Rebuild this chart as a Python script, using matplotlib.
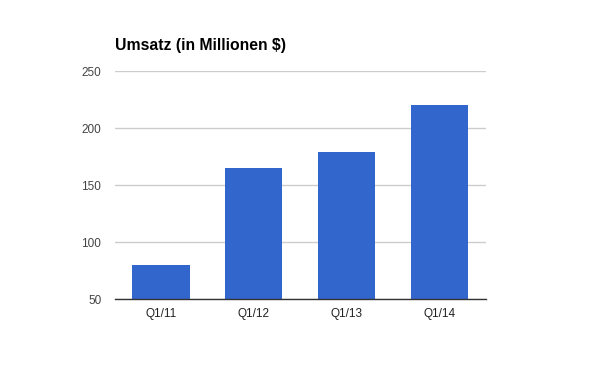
import matplotlib
matplotlib.use("Agg")
import matplotlib.pyplot as plt

categories = ["Q1/11", "Q1/12", "Q1/13", "Q1/14"]
values = [80, 165, 179, 220]
yticks = [50, 100, 150, 200, 250]
title = "Umsatz (in Millionen $)"

plt.rcParams['font.family'] = ['Liberation Sans', 'DejaVu Sans']

fig = plt.figure(figsize=(6, 3.71), dpi=100)
ax = fig.add_axes([0.191, 0.193, 0.619, 0.615])

x = list(range(len(categories)))
ax.bar(x, values, width=0.615, color="#3366CC", zorder=3, bottom=0)
ax.set_xlim(-0.5, len(categories) - 0.5)
ax.set_ylim(50, 250)
ax.set_yticks(yticks)
ax.set_yticklabels([str(v) for v in yticks])
ax.set_xticks(x)
ax.set_xticklabels(categories)

ax.grid(axis='y', color="#cccccc", linewidth=1, zorder=0)
for s in ["top", "right", "left"]:
    ax.spines[s].set_visible(False)
ax.spines["bottom"].set_color("#333333")
ax.spines["bottom"].set_linewidth(1)
ax.spines["bottom"].set_zorder(4)
ax.tick_params(axis='y', length=0, pad=9.5, labelsize=8.5, labelcolor="#444444")
ax.tick_params(axis='x', length=0, pad=6, labelsize=8.5, labelcolor="#222222")

fig.text(115 / 600, 1 - 50 / 371, title, fontsize=11.3, fontweight='bold',
         color="#000000", ha='left', va='baseline')

fig.savefig("out.png", dpi=100)
